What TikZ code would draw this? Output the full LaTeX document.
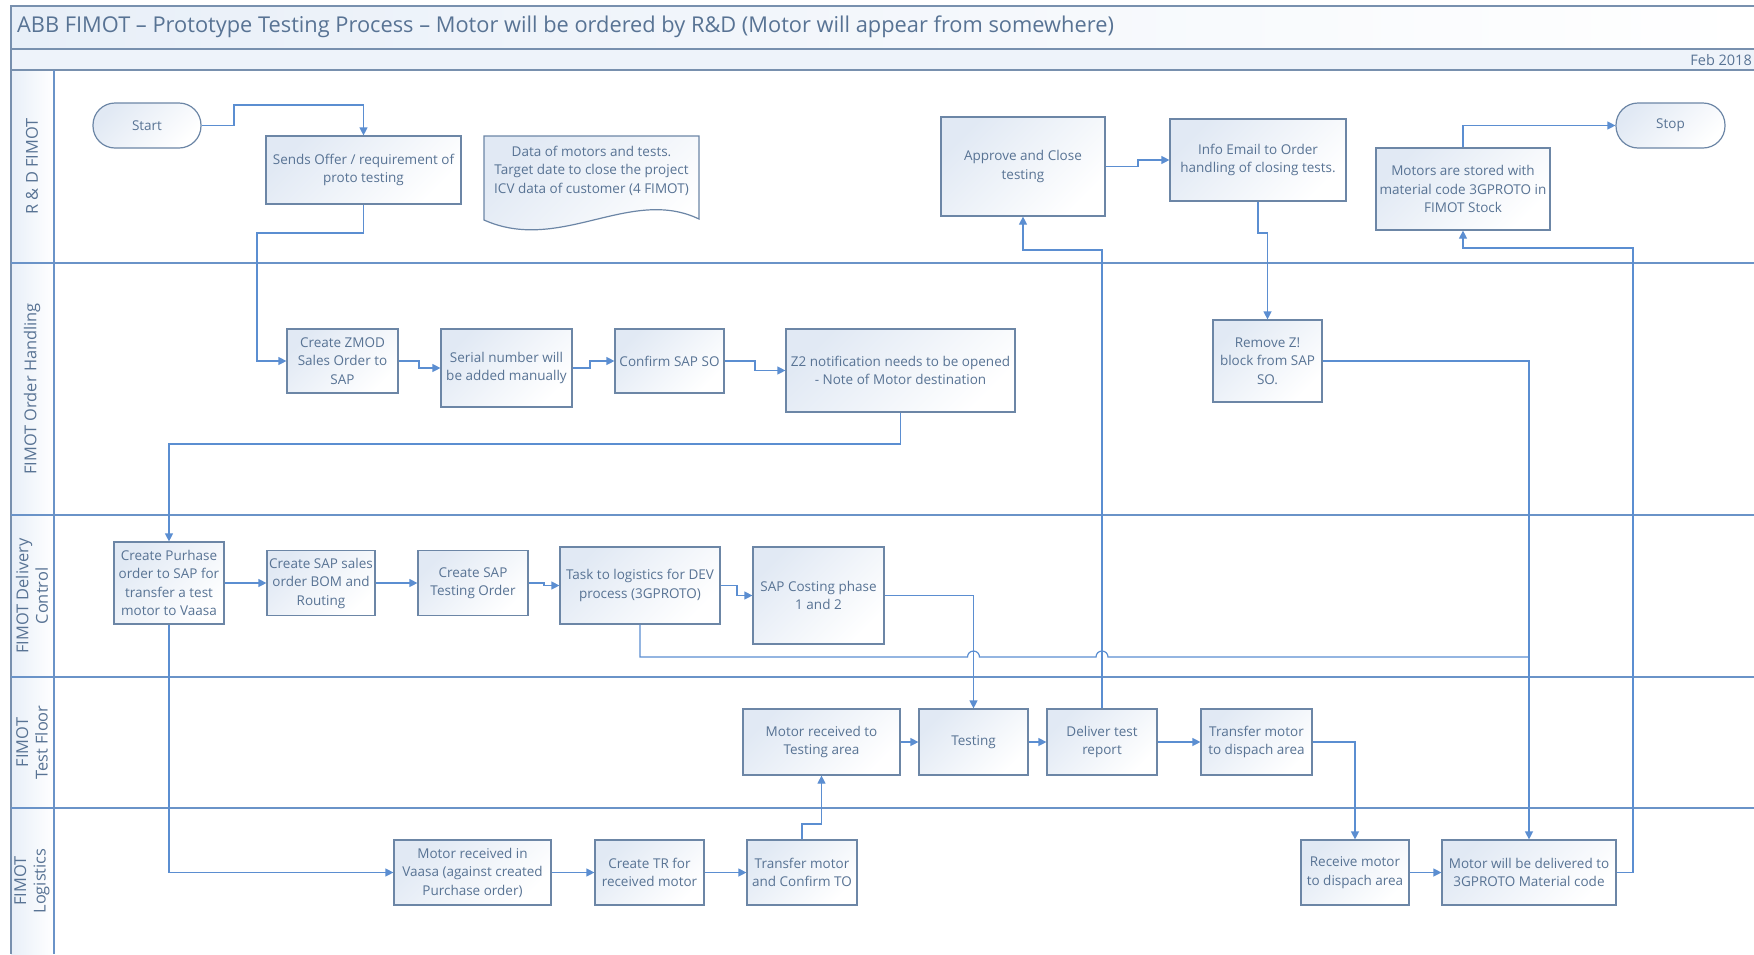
\documentclass[tikz,border=0pt]{standalone}
\usepackage{fontspec}
\setmainfont{Open Sans}
\newfontfamily\lanefont{Open Sans}
\usetikzlibrary{arrows.meta,calc}

\definecolor{lanecol}{HTML}{6A93C8}
\definecolor{framecol}{HTML}{7890AE}
\definecolor{boxborder}{HTML}{6C86A6}
\definecolor{flowcol}{HTML}{5B8ED1}
\definecolor{txtcol}{HTML}{587394}
\definecolor{boxshade}{HTML}{E1E9F4}
\definecolor{hdrshade}{HTML}{E8EFF8}
\definecolor{bandfill}{HTML}{EEF3FA}

\tikzset{
  proc/.style={draw=boxborder, line width=1.2pt, top color=boxshade, bottom color=white,
    shading angle=45, text=txtcol, align=center, inner sep=1pt},
  sz/.style 2 args={minimum width=#1pt, minimum height=#2pt},
  term/.style={proc, rounded corners=22pt},
  lane/.style={draw=lanecol, line width=1.2pt},
  frame/.style={draw=framecol, line width=1.3pt},
  flow/.style={draw=flowcol, line width=1.2pt, -{Triangle[length=8pt,width=8pt]}},
  link/.style={draw=flowcol, line width=1.2pt},
  lanelabel/.style={rotate=90, text=txtcol, font=\lanefont\fontsize{16.4}{19.5}\selectfont, align=center, inner sep=0pt},
}

\begin{document}
\begin{tikzpicture}[x=1pt, y=-1pt, font=\fontsize{13.5}{18.5}\selectfont]
\useasboundingbox[fill=white] (0,0) rectangle (1754,954);

% ---- header bands ----
\path[left color=hdrshade, right color=white] (11,6) rectangle (1754,49);
\path[fill=bandfill] (11,49) rectangle (1754,70);
\path[left color=hdrshade, right color=white] (11,70) rectangle (54,954);
\draw[frame] (1754,6) -- (11,6) -- (11,954);
\draw[frame] (11,49) -- (1754,49);
\draw[frame] (11,70) -- (1754,70);
\node[anchor=west, inner sep=0pt, text=txtcol, font=\fontsize{21.8}{25}\selectfont] (title) at (17,26.5)
  {ABB FIMOT – Prototype Testing Process – Motor will be ordered by R\&D (Motor will appear from somewhere)};
\node[anchor=east, inner sep=0pt, text=txtcol, font=\fontsize{14.5}{16}\selectfont] (date) at (1752,60) {Feb 2018};

% ---- swimlanes ----
\draw[lane] (54,70) -- (54,954);
\foreach \yy in {263,515,677,808} \draw[lane] (11,\yy) -- (1754,\yy);

\node[lanelabel] (lrd)  at (32,166.5) {R \& D FIMOT};
\node[lanelabel] (loh)  at (32,389)   {FIMOT Order Handling};
\node[lanelabel] (ldc)  at (32,596)   {FIMOT Delivery\\Control};
\node[lanelabel] (ltf)  at (32,742.5) {FIMOT\\Test Floor};
\node[lanelabel] (llog) at (32,881)   {FIMOT\\Logistics};

% ---- R & D FIMOT ----
\node[term, sz={108}{45}] (start) at (147,125.5) {Start};
\node[proc, sz={195}{68}] (sends) at (363.5,170) {Sends Offer / requirement of\\proto testing};
\path[proc] (484,136) -- (699,136) -- (699,219)
  .. controls (630,186) and (560,254) .. (484,220) -- cycle;
\node[text=txtcol, align=center, inner sep=0pt] (doc) at (591.5,170.5)
  {Data of motors and tests.\\Target date to close the project\\ICV data of customer (4 FIMOT)};
\node[proc, sz={164}{99}] (approve) at (1023,166.5) {Approve and Close\\testing};
\node[proc, sz={176}{82}] (info) at (1258,160) {Info Email to Order\\handling of closing tests.};
\node[proc, sz={174}{82}] (stored) at (1463,189) {Motors are stored with\\material code 3GPROTO in\\FIMOT Stock};
\node[term, sz={109}{45}] (stop) at (1670.5,125.5) {Stop};

% ---- FIMOT Order Handling ----
\node[proc, sz={111}{64}] (zmod) at (342.5,361) {Create ZMOD\\Sales Order to\\SAP};
\node[proc, sz={131}{78}] (serial) at (506.5,368) {Serial number will\\be added manually};
\node[proc, sz={109}{64}] (confirm) at (669.5,361) {Confirm SAP SO};
\node[proc, sz={229}{83}] (ztwo) at (900.5,370.5) {Z2 notification needs to be opened\\- Note of Motor destination};
\node[proc, sz={109}{82}] (remove) at (1267.5,361) {Remove Z!\\block from SAP\\SO.};

% ---- FIMOT Delivery Control ----
\node[proc, sz={110}{82}] (purchase) at (169,583) {Create Purhase\\order to SAP for\\transfer a test\\motor to Vaasa};
\node[proc, sz={108}{65}] (bom) at (321,583) {Create SAP sales\\order BOM and\\Routing};
\node[proc, sz={110}{65}] (testorder) at (473,583) {Create SAP\\Testing Order};
\node[proc, sz={160}{77}] (task) at (640,585.5) {Task to logistics for DEV\\process (3GPROTO)};
\node[proc, sz={131}{97}] (costing) at (818.5,595.5) {SAP Costing phase\\1 and 2};

% ---- FIMOT Test Floor ----
\node[proc, sz={157}{66}] (mrec) at (821.5,742) {Motor received to\\Testing area};
\node[proc, sz={109}{66}] (testing) at (973.5,742) {Testing};
\node[proc, sz={110}{66}] (deliver) at (1102,742) {Deliver test\\report};
\node[proc, sz={111}{66}] (transdisp) at (1256.5,742) {Transfer motor\\to dispach area};

% ---- FIMOT Logistics ----
\node[proc, sz={157}{65}] (vaasa) at (472.5,872.5) {Motor received in\\Vaasa (against created\\Purchase order)};
\node[proc, sz={109}{65}] (tr) at (649.5,872.5) {Create TR for\\received motor};
\node[proc, sz={110}{65}] (transconf) at (802,872.5) {Transfer motor\\and Confirm TO};
\node[proc, sz={108}{65}] (recdisp) at (1355,872.5) {Receive motor\\to dispach area};
\node[proc, sz={174}{65}] (deliv) at (1529,872.5) {Motor will be delivered to\\3GPROTO Material code};

% ---- connectors ----
\draw[flow] (start.east) -| (234,105) -| (sends.north);
\draw[flow] (sends.south) |- (257,233) |- (zmod.west);
\draw[flow] (zmod.east) -| (419,368) -- (serial.west);
\draw[flow] (serial.east) -| (590,361) -- (confirm.west);
\draw[flow] (confirm.east) -| (755,370.5) -- (ztwo.west);
\draw[flow] (ztwo.south) |- (169,444) -- (purchase.north);
\draw[flow] (purchase.east) -- (bom.west);
\draw[flow] (bom.east) -- (testorder.west);
\draw[flow] (testorder.east) -| (544,585.5) -- (task.west);
\draw[flow] (task.east) -| (737,595.5) -- (costing.west);
\draw[flow] (costing.east) -| (testing.north);
\coordinate (join) at (1529,657);
\draw[link] (task.south) |- (967.5,657) arc[start angle=180, end angle=360, radius=6]
  -- (1096,657) arc[start angle=180, end angle=360, radius=6] -- (join);
\draw[flow] (mrec.east) -- (testing.west);
\draw[flow] (testing.east) -- (deliver.west);
\draw[flow] (deliver.east) -- (transdisp.west);
\draw[flow] (deliver.north) |- (1023,250) -- (approve.south);
\draw[flow] (approve.east) -| (1138,160) -- (info.west);
\draw[flow] (info.south) |- (1267.5,233) -- (remove.north);
\draw[flow] (remove.east) -| (deliv.north);
\draw[flow] (deliv.east) -| (1633,248) -| (stored.south);
\draw[flow] (stored.north) |- (stop.west);
\draw[flow] (purchase.south) |- (vaasa.west);
\draw[flow] (vaasa.east) -- (tr.west);
\draw[flow] (tr.east) -- (transconf.west);
\draw[flow] (transconf.north) |- (821.5,824) -- (mrec.south);
\draw[flow] (transdisp.east) -| (recdisp.north);
\draw[flow] (recdisp.east) -- (deliv.west);
\end{tikzpicture}
\end{document}
